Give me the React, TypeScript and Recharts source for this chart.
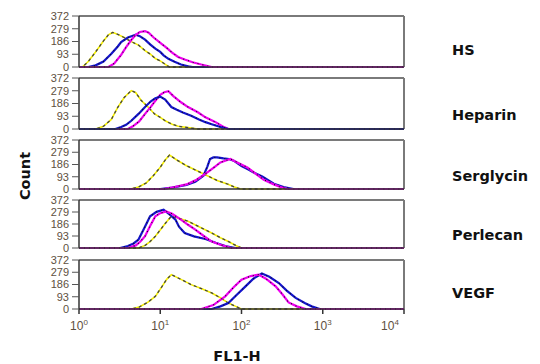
import React from 'react';
import { LineChart, Line, XAxis, YAxis, ReferenceLine } from 'recharts';

type Pt = [number, number];

// FL1-H channel value, event count
const countTicks = [0, 93, 186, 279, 372];
const fl1Ticks = [1, 10, 100, 1000, 10000];

const hsControl: Pt[] = [[1, 0], [1.1, 0], [1.3, 40], [1.6, 110], [2.0, 190], [2.3, 235], [2.6, 252], [3.0, 238], [3.6, 215], [4.4, 185], [5.4, 160], [6.5, 120], [7.5, 95], [8.7, 62], [10, 45], [11.8, 15], [13, 0], [10000, 0]];
const hsBlue: Pt[] = [[1, 0], [1.3, 0], [1.6, 12], [2.0, 40], [2.5, 97], [3.0, 150], [3.3, 182], [4.0, 215], [4.6, 228], [5.0, 236], [5.6, 225], [6.5, 200], [7.5, 165], [8.7, 134], [10, 110], [11, 85], [12.6, 60], [15, 38], [18, 18], [22, 5], [25, 0], [10000, 0]];
const hsMagenta: Pt[] = [[1, 0], [2.3, 0], [2.7, 25], [3.3, 88], [3.8, 145], [4.4, 197], [5.0, 235], [5.6, 255], [6.5, 262], [7.2, 250], [8.3, 215], [10.3, 170], [12, 140], [14, 105], [16.6, 73], [20, 55], [25, 35], [32, 18], [43, 0], [10000, 0]];

const heparinControl: Pt[] = [[1, 0], [1.6, 0], [2.0, 20], [2.5, 70], [3.0, 158], [3.6, 230], [4.4, 280], [5.0, 265], [5.8, 210], [7.1, 160], [8.5, 110], [10, 85], [11.5, 60], [14, 35], [16.6, 20], [22, 10], [29, 0], [10000, 0]];
const heparinBlue: Pt[] = [[1, 0], [2.8, 0], [3.3, 15], [3.8, 30], [4.4, 60], [5.4, 110], [6.5, 160], [7.6, 200], [8.7, 225], [10, 236], [11.5, 215], [13.7, 160], [16, 140], [19, 120], [24, 97], [30, 70], [36, 50], [43, 35], [55, 15], [69, 0], [10000, 0]];
const heparinMagenta: Pt[] = [[1, 0], [4, 0], [4.6, 20], [5.5, 55], [6.5, 110], [7.6, 160], [8.7, 206], [10, 250], [11.2, 268], [12.6, 275], [14.5, 240], [18, 195], [22, 160], [29, 122], [36, 85], [48, 50], [58, 20], [69, 0], [10000, 0]];

const serglycinControl: Pt[] = [[1, 0], [4.3, 0], [5.4, 15], [6.7, 45], [8.2, 101], [10, 165], [11.5, 220], [13, 258], [16, 220], [21, 177], [28, 140], [38, 101], [50, 65], [67, 38], [82, 15], [97, 0], [10000, 0]];
const serglycinBlue: Pt[] = [[1, 0], [10, 0], [14, 10], [21, 30], [27, 55], [34, 101], [38, 170], [41, 228], [45, 240], [50, 240], [60, 232], [70, 228], [80, 215], [100, 175], [120, 150], [141, 126], [180, 95], [250, 40], [330, 15], [437, 0], [10000, 0]];
const serglycinMagenta: Pt[] = [[1, 0], [11, 0], [15, 15], [21, 35], [28, 70], [38, 126], [46, 165], [55, 202], [63, 215], [73, 228], [90, 200], [118, 164], [150, 115], [188, 70], [250, 35], [300, 15], [370, 0], [10000, 0]];

const perlecanControl: Pt[] = [[1, 0], [5.4, 0], [6.5, 20], [7.5, 50], [8.7, 91], [10, 140], [11.5, 190], [13.7, 246], [17, 230], [22, 207], [30, 165], [43, 116], [55, 80], [69, 50], [85, 20], [100, 0], [10000, 0]];
const perlecanBlue: Pt[] = [[1, 0], [3.2, 0], [4.0, 15], [4.7, 35], [5.4, 65], [6.3, 150], [7.5, 246], [9, 280], [11, 297], [13, 260], [15.4, 220], [17, 165], [20, 116], [26, 90], [36, 70], [48, 40], [63, 15], [84, 0], [10000, 0]];
const perlecanMagenta: Pt[] = [[1, 0], [4, 0], [5, 20], [5.7, 50], [6.5, 91], [7.5, 170], [8.7, 246], [10, 270], [11.8, 284], [14, 265], [18, 220], [22, 180], [27, 142], [34, 95], [43, 50], [55, 25], [75, 0], [10000, 0]];

const vegfControl: Pt[] = [[1, 0], [4.4, 0], [5.5, 15], [7, 50], [8.7, 96], [10.5, 170], [12, 225], [13.7, 261], [18, 225], [24, 185], [32, 155], [43, 122], [55, 85], [69, 45], [85, 20], [100, 0], [10000, 0]];
const vegfBlue: Pt[] = [[1, 0], [43, 0], [55, 20], [69, 45], [85, 100], [112, 172], [140, 230], [178, 269], [220, 245], [288, 197], [360, 140], [464, 84], [600, 45], [730, 20], [920, 0], [10000, 0]];
const vegfMagenta: Pt[] = [[1, 0], [32, 0], [45, 30], [63, 96], [80, 165], [100, 223], [130, 250], [162, 261], [200, 230], [263, 172], [320, 110], [380, 50], [480, 20], [617, 0], [10000, 0]];

const panelNames = ['HS', 'Heparin', 'Serglycin', 'Perlecan', 'VEGF'];

const panels = [
  { control: hsControl, blue: hsBlue, magenta: hsMagenta },
  { control: heparinControl, blue: heparinBlue, magenta: heparinMagenta },
  { control: serglycinControl, blue: serglycinBlue, magenta: serglycinMagenta },
  { control: perlecanControl, blue: perlecanBlue, magenta: perlecanMagenta },
  { control: vegfControl, blue: vegfBlue, magenta: vegfMagenta },
];

// layout
const panelTops = [16, 78, 140, 200, 260];
const panelHeights = [51, 51, 49, 48, 49];
const nameY = [50, 115, 176, 235, 293];
const blueOnTop = [false, true, false, false, false];
const TOP_PAD = 8;

const tickColor = '#5e5040';
const YELLOW = '#f4ee00';
const BLUE = '#1414cc';
const MAGENTA = '#f000f0';
const FRAME = '#7a7a7a';

const rows = (pts: Pt[]) => pts.map(([x, y]) => ({ x, y }));

const PowerTick = (props: any) => {
  const { x, y, payload } = props;
  const exp = Math.round(Math.log10(payload.value));
  return (
    <text x={x} y={y + 14} textAnchor="middle" fill={tickColor} fontSize={12} fontFamily="Liberation Sans, Arial, sans-serif">
      <tspan>10</tspan>
      <tspan dy={-5} fontSize={8}>{exp}</tspan>
    </text>
  );
};

const Panel = ({ idx }: { idx: number }) => {
  const p = panels[idx];
  const last = idx === panels.length - 1;
  const h = panelHeights[idx];
  const bottomH = last ? 30 : 8;
  const series = (data: Pt[], color: string, key: string) => [
    <Line key={key} data={rows(data)} dataKey="y" type="linear" stroke={color} strokeWidth={2.2} dot={false} isAnimationActive={false} />,
    <Line key={key + 'd'} data={rows(data)} dataKey="y" type="linear" stroke="#111" strokeWidth={1.1} strokeDasharray="1 4" dot={false} isAnimationActive={false} />,
  ];
  const blue = series(p.blue, BLUE, 'b');
  const mag = series(p.magenta, MAGENTA, 'm');
  return (
    <div style={{ position: 'absolute', left: 0, top: panelTops[idx] - TOP_PAD }}>
      <LineChart width={410} height={h + TOP_PAD + bottomH} margin={{ top: TOP_PAD, right: 6, bottom: 0, left: 0 }}>
        <XAxis
          dataKey="x"
          type="number"
          scale="log"
          domain={[1, 10000]}
          ticks={fl1Ticks}
          allowDataOverflow
          height={bottomH}
          tickSize={5}
          axisLine={{ stroke: '#333', strokeWidth: 1.5 }}
          tickLine={{ stroke: '#333', strokeWidth: 1.5 }}
          tick={last ? <PowerTick /> : false}
        />
        <YAxis
          type="number"
          domain={[0, 372]}
          ticks={countTicks}
          interval={0}
          width={79}
          tickSize={7}
          tickMargin={3}
          axisLine={{ stroke: '#333', strokeWidth: 1.5 }}
          tickLine={{ stroke: '#555' }}
          tick={{ fill: tickColor, fontSize: 11, fontFamily: 'Liberation Sans, Arial, sans-serif' }}
        />
        <ReferenceLine y={372} stroke={FRAME} strokeWidth={2} ifOverflow="visible" />
        <ReferenceLine x={10000} stroke={FRAME} strokeWidth={2} ifOverflow="visible" />
        <Line data={rows(p.control)} dataKey="y" type="linear" stroke={YELLOW} strokeWidth={1.6} dot={false} isAnimationActive={false} />
        <Line data={rows(p.control)} dataKey="y" type="linear" stroke="#444" strokeWidth={1.3} strokeDasharray="3 3" dot={false} isAnimationActive={false} />
        {blueOnTop[idx] ? mag : blue}
        {blueOnTop[idx] ? blue : mag}
      </LineChart>
    </div>
  );
};

export default function App() {
  return (
    <div style={{ position: 'absolute', left: 0, top: 0, width: 540, height: 364, background: '#fff', overflow: 'hidden' }}>
      {panels.map((_, i) => (
        <Panel key={i} idx={i} />
      ))}
      <svg width={540} height={364} style={{ position: 'absolute', left: 0, top: 0, pointerEvents: 'none' }}>
        {panelNames.map((n, i) => (
          <text key={n} x={452} y={nameY[i]} dominantBaseline="central" fontSize={14.5} fontWeight="bold" fontFamily="DejaVu Sans, sans-serif" fill="#111">
            {n}
          </text>
        ))}
        <text x={25} y={176} transform="rotate(-90 25 176)" textAnchor="middle" dominantBaseline="central" fontSize={14.5} fontWeight="bold" fontFamily="DejaVu Sans, sans-serif" fill="#111">
          Count
        </text>
        <text x={237} y={356} textAnchor="middle" dominantBaseline="central" fontSize={14.5} fontWeight="bold" fontFamily="DejaVu Sans, sans-serif" fill="#111">
          FL1-H
        </text>
      </svg>
    </div>
  );
}
